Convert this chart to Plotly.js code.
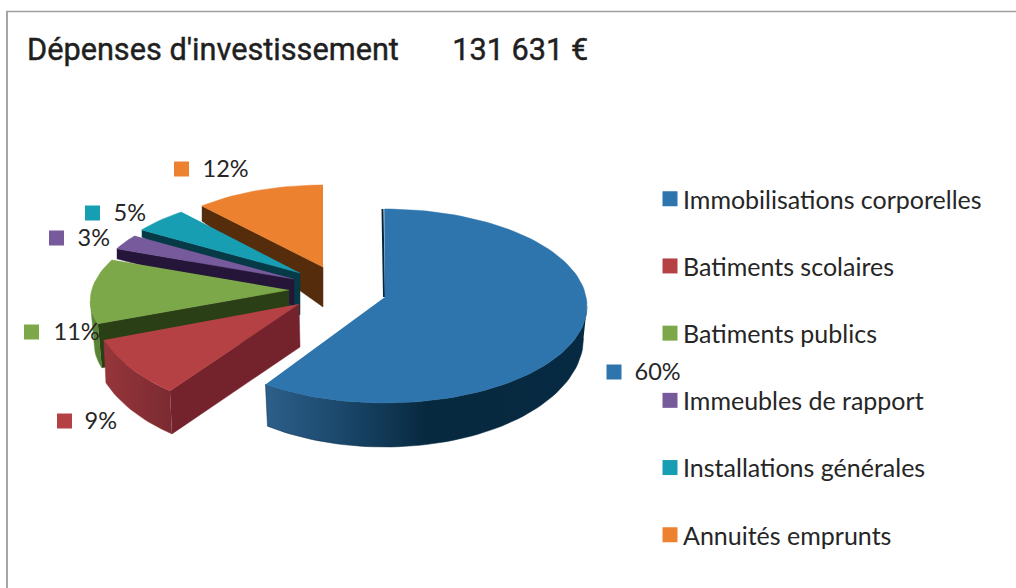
<!DOCTYPE html>
<html>
<head>
<meta charset="utf-8">
<script src="https://cdn.plot.ly/plotly-3.0.1.min.js"></script>
<style>html,body{margin:0;padding:0;background:#fff}#chart{width:1016px;height:588px}
#chart .gtitle{stroke:#1f1f1f;stroke-width:0.45px}</style>
</head>
<body>
<div id="chart"></div>
<script>
// ---- data ----
const categories = ["Immobilisations corporelles", "Batiments scolaires", "Batiments publics",
                    "Immeubles de rapport", "Installations générales", "Annuités emprunts"];
const percents = [60, 9, 11, 3, 5, 12];
const titleText = "Dépenses d'investissement\u00a0\u00a0\u00a0\u00a0\u00a0\u00a0\u00a0131 631 €";

// ---- styles ----
const faceColors = ["#2e75ad", "#b54144", "#7ca84a", "#765a9b", "#189eb3", "#ec8230"];
const wallColors = ["#05283f", "#74232c", "#2a3f15", "#241539", "#063a47", "#552c0c"];
const sideScales = [
  [[0, "#2c5f8a"], [0.25, "#1a4669"], [0.5, "#07293f"], [1, "#062a42"]],
  [[0, "#96363b"], [1, "#7a2a31"]],
  [[0, "#5f8a38"], [1, "#55802f"]],
  null, null, null
];
const textColor = "#262626";

// ---- perspective geometry of each exploded slice (pixels) ----
const top_ = [
  {cx: 384.5, cy: 306, rx: 202.5, ry: 97, kx: 0, ax: 385, ay: 297},
  {cx: 283.4, cy: 297.4, rx: 193, ry: 115.6, kx: 0, ax: 299, ay: 304},
  {cx: 322, cy: 289, rx: 230, ry: 94.5, kx: 28, ax: 289, ay: 290},
  {cx: 346, cy: 272, rx: 241, ry: 75, kx: 0, ax: 294, ay: 279},
  {cx: 324, cy: 265, rx: 208, ry: 72.8, kx: 0, ax: 300, ay: 273},
  {cx: 323, cy: 262.5, rx: 177, ry: 77.5, kx: 0, ax: 323, ay: 267}
];
const depthOuter = [44, 43, 44, 10, 7, 15];
const depthApex = [42, 43, 45, 26, 42, 40];
const blueLower = {cx: 384.5, cy: 338, rx: 199, ry: 109, kx: 0};
const sideFrom = [90, null, null, null, null, null]; // first angle of the visible outer side
const labelX = [614, 64.5, 31.5, 56.5, 92.5, 181.5];
const labelY = [372, 421, 332, 238, 213, 169];
const labelTextX = [634.5, 84.5, 53.5, 77.5, 113.5, 202.5];
const drawOrder = [5, 4, 3, 2, 1, 0];

const rad = d => d * Math.PI / 180;
const pt = (g, a) => [g.cx + g.rx * Math.sin(rad(a)) + g.kx * Math.cos(rad(a)),
                      g.cy - g.ry * Math.cos(rad(a))];
function arc(g, a0, a1) {
  const n = Math.max(6, Math.ceil(Math.abs(a1 - a0) / 2)), out = [];
  for (let i = 0; i <= n; i++) out.push(pt(g, a0 + (a1 - a0) * i / n));
  return out;
}
function poly(points, fill, gradient, name) {
  const t = {
    x: points.map(p => p[0]), y: points.map(p => p[1]),
    mode: "lines", fill: "toself", line: {width: 0.5, color: fill},
    fillcolor: fill, hoverinfo: name ? "text" : "skip", showlegend: false, type: "scatter"
  };
  if (name) t.text = name;
  if (gradient) t.fillgradient = {type: "horizontal", colorscale: gradient};
  return t;
}

// start / end angle of every slice from the values
let running = 0;
const start = [], end = [];
percents.forEach(v => { start.push(running * 3.6); running += v; end.push(running * 3.6); });

const traces = [];
drawOrder.forEach(i => {
  const g = top_[i], a0 = start[i], a1 = end[i];
  const apex = [g.ax, g.ay];
  if (i === 0) {
    const up = arc(g, sideFrom[0], a1);
    const low = arc(blueLower, a1, sideFrom[0]);
    traces.push(poly(up.concat(low), wallColors[0], sideScales[0]));
    // thin visible cut edge at the top
    const p = pt(g, a0);
    traces.push({x: [p[0] - 2, g.ax - 1], y: [p[1], g.ay], mode: "lines", type: "scatter",
                 line: {width: 2, color: wallColors[0]}, hoverinfo: "skip", showlegend: false});
  } else if (i === 1) {
    const up = arc(g, a0, a1);
    const low = up.slice().reverse().map(p => [p[0] + 2, p[1] + depthOuter[i]]);
    traces.push(poly(up.concat(low), sideScales[1][0][1], sideScales[1]));
    const p = pt(g, a0);
    traces.push(poly([p, apex, [g.ax + 1, g.ay + depthApex[i]], [p[0] + 2, p[1] + depthOuter[i]]], wallColors[i]));
  } else if (i === 2) {
    const up = arc(g, a0, a0 + 14);
    const low = up.slice().reverse().map(p => [p[0] + 4, p[1] + depthOuter[i]]);
    traces.push(poly(up.concat(low), sideScales[2][0][1], sideScales[2]));
    const p = pt(g, a0);
    traces.push(poly([p, apex, [g.ax, g.ay + depthApex[i]], [p[0] + 4, p[1] + depthOuter[i]]], wallColors[i]));
  } else {
    const p = pt(g, a0);
    traces.push(poly([p, apex, [g.ax, g.ay + depthApex[i]], [p[0], p[1] + depthOuter[i]]], wallColors[i]));
  }
  traces.push(poly([apex].concat(arc(g, a0, a1)), faceColors[i], null, categories[i] + " : " + percents[i] + " %"));
});

// percent labels: the square markers double as legend entries
categories.forEach((c, i) => {
  traces.push({
    type: "scatter", mode: "markers", name: c, x: [labelX[i]], y: [labelY[i]],
    marker: {symbol: "square", size: 15, color: faceColors[i], line: {width: 0}},
    legendgroup: c, hoverinfo: "name"
  });
  traces.push({
    type: "scatter", mode: "text", x: [labelTextX[i]], y: [labelY[i] + 2],
    text: [percents[i] + "%"], textposition: "middle right",
    textfont: {family: "Lato, Carlito, sans-serif", size: 23.5, color: textColor},
    showlegend: false, hoverinfo: "skip"
  });
});

const layout = {
  width: 1016, height: 588,
  margin: {l: 0, r: 0, t: 0, b: 0},
  paper_bgcolor: "#ffffff", plot_bgcolor: "#ffffff",
  title: {text: titleText, x: 27 / 1016, xref: "paper", xanchor: "left",
          y: 1 - 49 / 588, yref: "paper", yanchor: "middle",
          font: {family: "Roboto, sans-serif", size: 30.7, color: "#1f1f1f"}},
  xaxis: {range: [0, 1016], visible: false, fixedrange: true},
  yaxis: {range: [588, 0], visible: false, fixedrange: true},
  legend: {x: 650 / 1016, y: 1 - 176 / 588, xanchor: "left", yanchor: "top",
           tracegroupgap: 31.7, bgcolor: "rgba(0,0,0,0)",
           font: {family: "Lato, Carlito, sans-serif", size: 25, color: textColor}},
  shapes: [
    {type: "line", x0: 7, x1: 7, y0: 11, y1: 588, line: {color: "#a6a6a6", width: 2}},
    {type: "line", x0: 6, x1: 1016, y0: 11.5, y1: 11.5, line: {color: "#a0a0a0", width: 1.5}}
  ],
  showlegend: true
};
Plotly.newPlot("chart", traces, layout, {displayModeBar: false}).then(() => {
  // swatch-to-text gap of the original legend is tighter than the default one
  document.querySelectorAll("#chart .legend text.legendtext").forEach(t => {
    t.setAttribute("x", parseFloat(t.getAttribute("x")) - 7);
  });
});
</script>
</body>
</html>
